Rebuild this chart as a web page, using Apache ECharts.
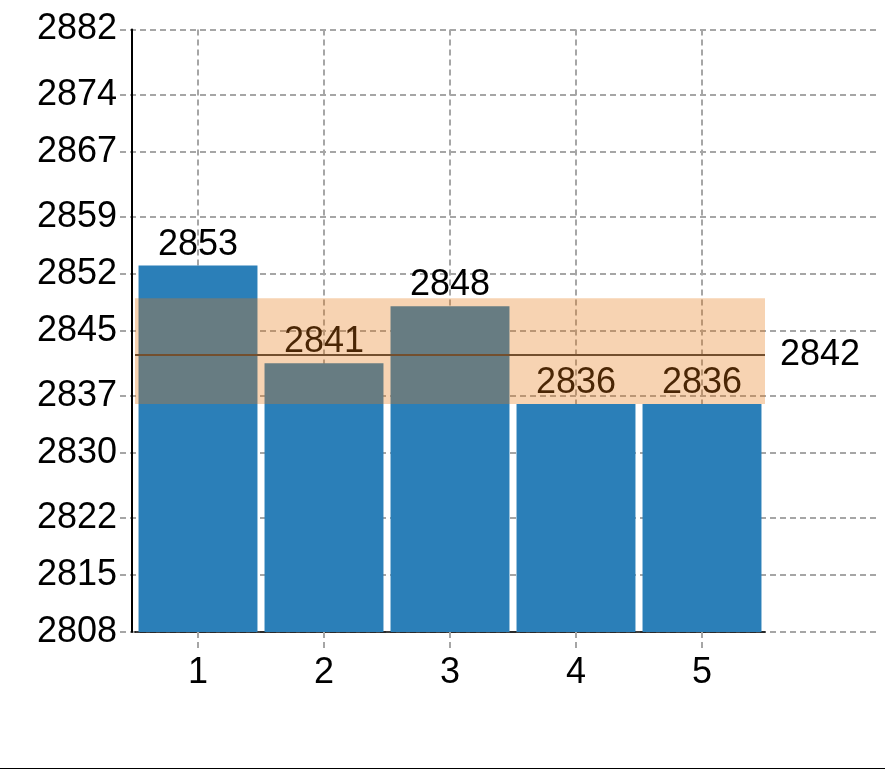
<!DOCTYPE html>
<html>
<head>
<meta charset="utf-8">
<script src="https://cdn.jsdelivr.net/npm/echarts@6/dist/echarts.min.js"></script>
<style>
  html, body { margin: 0; padding: 0; background: #fff; }
  #wrap { width: 885px; height: 768px; border-bottom: 1px solid #000; }
  #chart { width: 885px; height: 768px; }
</style>
</head>
<body>
<div id="wrap"><div id="chart"></div></div>
<script>
// Data
const categories = ['1', '2', '3', '4', '5'];
const values = [2853, 2841, 2848, 2836, 2836];
const meanValue = [2842];
const bandRange = [2836, 2849];
const yTicks = [2808, 2815, 2822, 2830, 2837, 2845, 2852, 2859, 2867, 2874, 2882];
const categoryPositions = [1, 2, 3, 4, 5];

const FONT = 'Liberation Sans, Arial, Helvetica, sans-serif';
const FS = 36;
const GRID_COLOR = '#a6a6a6';
const dash = [6, 4];

const chart = echarts.init(document.getElementById('chart'));
chart.setOption({
  animation: false,
  textStyle: { fontFamily: FONT },
  grid: [
    { left: 135, right: 120, top: 29.5, bottom: 136 },
    { left: 120, right: 5, top: 29.5, bottom: 136 }
  ],
  xAxis: [
    {
      type: 'category', gridIndex: 0, data: categories, position: 'bottom',
      axisLine: { show: true, onZero: false, lineStyle: { color: '#000', width: 1.5 } },
      axisTick: { show: true, alignWithLabel: true, length: 16,
        lineStyle: { color: GRID_COLOR, width: 2, type: dash } },
      axisLabel: { fontSize: FS, color: '#000', margin: 23, fontFamily: FONT },
      splitLine: { show: false }
    },
    {
      type: 'value', gridIndex: 0, min: 0.5, max: 5.5, position: 'bottom',
      axisLine: { show: false },
      axisLabel: { show: false },
      axisTick: { show: false, customValues: categoryPositions },
      splitLine: { show: true, lineStyle: { color: GRID_COLOR, width: 2, type: dash } }
    },
    {
      type: 'value', gridIndex: 1, min: 0, max: 1, show: false
    }
  ],
  yAxis: [
    {
      type: 'value', gridIndex: 0, min: 2808, max: 2882, offset: 3.5,
      axisLine: { show: true, lineStyle: { color: '#000', width: 2 } },
      axisTick: { show: false },
      axisLabel: { show: false },
      splitLine: { show: false }
    },
    {
      type: 'value', gridIndex: 1, min: 2808, max: 2882,
      axisLine: { show: false },
      axisTick: { show: false, customValues: yTicks },
      axisLabel: { show: true, customValues: yTicks, fontSize: FS, color: '#000', margin: 3,
        fontFamily: FONT, formatter: v => String(Math.round(v)) },
      splitLine: { show: true, lineStyle: { color: GRID_COLOR, width: 2, type: dash } }
    }
  ],
  series: [
    {
      type: 'bar', xAxisIndex: 0, yAxisIndex: 0, z: 2,
      data: values,
      barCategoryGap: '5.6%',
      itemStyle: { color: '#2b7fb8' },
      label: { show: true, position: 'top', distance: 3, fontSize: FS, color: '#000',
        fontFamily: FONT, formatter: p => String(Math.floor(p.value)) },
      markLine: {
        z: 3, silent: true, symbol: 'none',
        lineStyle: { color: '#3d3d3d', width: 2, type: 'solid' },
        label: { show: true, position: 'end', distance: 15, fontSize: FS, color: '#000',
          fontFamily: FONT, formatter: p => String(Math.floor(p.value)) },
        data: meanValue.map(v => ({ yAxis: v }))
      }
    },
    {
      type: 'line', xAxisIndex: 0, yAxisIndex: 0, z: 10, data: [],
      markArea: {
        z: 10, silent: true,
        itemStyle: { color: 'rgba(230,117,14,0.32)' },
        data: [[{ yAxis: bandRange[1] }, { yAxis: bandRange[0] }]]
      }
    }
  ]
});
</script>
</body>
</html>
